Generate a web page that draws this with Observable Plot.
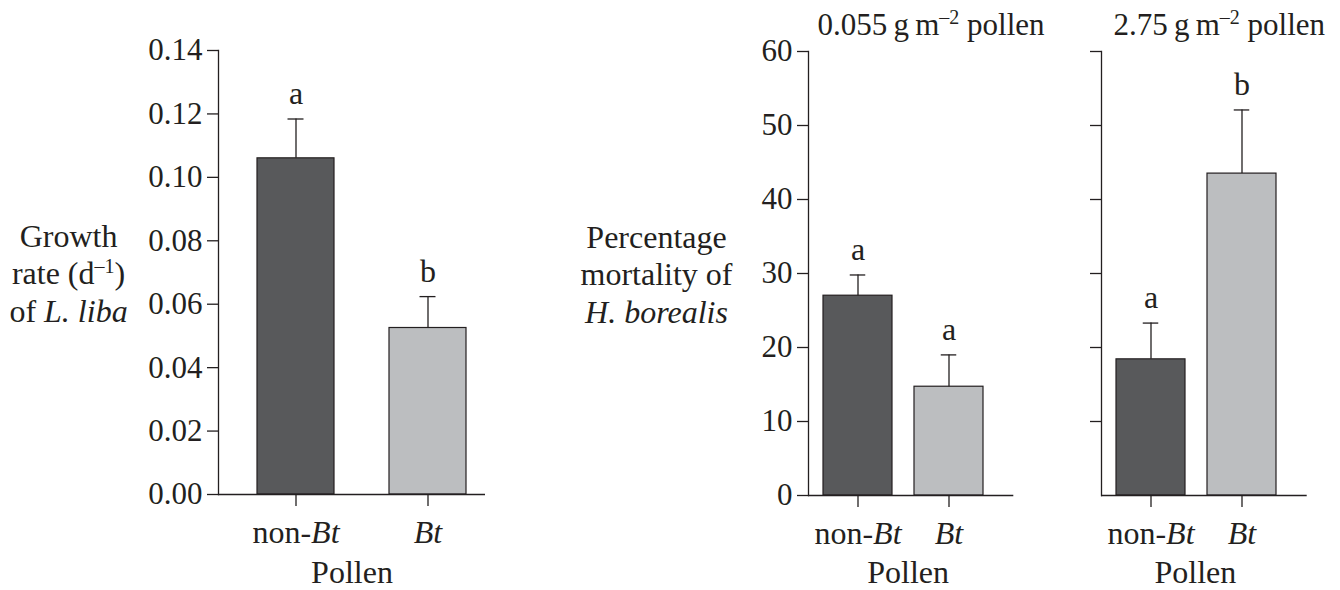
<!DOCTYPE html>
<html><head><meta charset="utf-8">
<script src="https://cdn.jsdelivr.net/npm/d3@7"></script>
<script src="https://cdn.jsdelivr.net/npm/@observablehq/plot@0.6"></script>
<style>
html,body{margin:0;padding:0;background:#fff;}
#chart{position:relative;width:1340px;height:590px;overflow:hidden;background:#fff;}
#chart svg{position:absolute;top:0;}
</style></head><body><div id="chart"></div>
<script>
// ---- data ----
const pollen = ["non-Bt", "Bt"];
const pollenTickText = ["non-*Bt*", "*Bt*"];
const barColors = ["#58595b", "#bcbec0"];

const growthMean = [0.106, 0.0525];
const growthSE = [0.0124, 0.0099];
const growthLetters = ["a", "b"];
const growthTicks = [0, 0.02, 0.04, 0.06, 0.08, 0.10, 0.12, 0.14];

const lowMean = [27.0, 14.7];
const lowSE = [2.8, 4.3];
const lowLetters = ["a", "a"];

const highMean = [18.4, 43.5];
const highSE = [4.9, 8.6];
const highLetters = ["a", "b"];

const mortTicks = [0, 10, 20, 30, 40, 50, 60];
const mortTicksNoLabel = [10, 20, 30, 40, 50, 60];

const growthLabel = "Growth\nrate (d^–1^)\nof *L. liba*";
const mortLabel = "Percentage\nmortality of\n*H. borealis*";
const lowTitle = "0.055\u2009g\u2009m^–2^ pollen";
const highTitle = "2.75\u2009g\u2009m^–2^ pollen";
const xTitle = "Pollen";

const ink = "#231f20";
const FS = 31;
const FSL = 32;

// ---- rich text helpers (italic / superscript) ----
const hasMarkup = s => /[*^]/.test(s);
function renderLine(parent, line) {
  parent.textContent = "";
  const parts = line.split(/(\*[^*]+\*|\^[^^]+\^)/).filter(s => s.length);
  let shift = 0;
  for (const p of parts) {
    const ts = document.createElementNS("http://www.w3.org/2000/svg", "tspan");
    if (shift) { ts.setAttribute("dy", shift); shift = 0; }
    if (p.startsWith("*")) {
      ts.textContent = p.slice(1, -1);
      ts.setAttribute("font-style", "italic");
    } else if (p.startsWith("^")) {
      ts.textContent = p.slice(1, -1);
      ts.setAttribute("font-size", Math.round(FS * 0.64) + "px");
      ts.setAttribute("dy", -11);
      shift = 11;
    } else {
      ts.textContent = p;
    }
    parent.appendChild(ts);
  }
}
function richify(svg) {
  svg.querySelectorAll("text").forEach(t => {
    if (!hasMarkup(t.textContent)) return;
    const lines = Array.from(t.querySelectorAll("tspan"));
    if (lines.length) lines.forEach(ts => { if (hasMarkup(ts.textContent)) renderLine(ts, ts.textContent); });
    else renderLine(t, t.textContent);
  });
}

// ---- panel builder ----
function panel(o) {
  const rows = pollen.map((p, i) => ({
    pollen: p, mean: o.means[i], top: o.means[i] + o.ses[i], letter: o.letters[i]
  }));
  const capInset = (o.bandwidth - 16) / 2;
  const marks = [
    Plot.barY(rows, {x: "pollen", y: "mean", fill: "pollen", stroke: ink, strokeWidth: 1.2}),
    Plot.ruleX(rows, {x: "pollen", y1: "mean", y2: "top", stroke: ink, strokeWidth: 1.3}),
    Plot.tickY(rows, {x: "pollen", y: "top", insetLeft: capInset, insetRight: capInset, stroke: ink, strokeWidth: 1.3}),
    Plot.text(rows, {x: "pollen", y: "top", text: "letter", dy: -15, lineAnchor: "bottom", fill: ink, fontSize: FSL}),
    Plot.ruleY([0], {stroke: ink, strokeWidth: 1.3}),
    Plot.frame({anchor: "left", stroke: ink, strokeWidth: 1.3}),
    Plot.axisY({ticks: o.yTicks, tickSize: 11, tickPadding: 5, tickFormat: o.tickFormat, label: null, strokeWidth: 1.3}),
    Plot.axisX({tickSize: 12, tickPadding: 14, label: null, strokeWidth: 1.3, fontSize: FSL,
      tickFormat: d => pollenTickText[pollen.indexOf(d)]}),
    Plot.text([xTitle], {text: d => d, frameAnchor: "bottom", dx: o.pollenDx, dy: o.pollenDy, lineAnchor: "bottom", fill: ink, fontSize: FSL})
  ];
  if (o.yLabel) marks.push(Plot.text([o.yLabel], {text: d => d, frameAnchor: "left", dx: o.yLabelDx,
    textAnchor: "middle", lineAnchor: "middle", lineHeight: 1.17, fill: ink, fontSize: FSL}));
  if (o.title) marks.push(Plot.text([o.title], {text: d => d, frameAnchor: "top-left", dx: o.titleDx, dy: -17,
    textAnchor: "start", lineAnchor: "bottom", fill: ink}));

  const svg = Plot.plot({
    width: o.width, height: 590,
    marginLeft: o.mL, marginRight: o.mR, marginTop: o.mT, marginBottom: o.mB,
    x: {type: "band", domain: pollen, range: o.xRange, paddingInner: o.pad, paddingOuter: 0, align: 0.5, label: null},
    y: {domain: o.yDomain, label: null},
    color: {domain: pollen, range: barColors},
    style: {fontFamily: "'Liberation Serif', 'Times New Roman', serif", fontSize: FS + "px",
      color: ink, background: "transparent", overflow: "visible"},
    marks
  });
  svg.style.left = o.left + "px";
  richify(svg);
  document.getElementById("chart").appendChild(svg);
}

// Panel 1: growth rate of L. liba
panel({left: 0, width: 520, mL: 218, mR: 35, mT: 50, mB: 96,
  xRange: [256.7, 466], pad: 0.418, bandwidth: 77,
  yDomain: [0, 0.14], yTicks: growthTicks, tickFormat: d3.format(".2f"),
  means: growthMean, ses: growthSE, letters: growthLetters,
  yLabel: growthLabel, yLabelDx: -150, pollenDx: 0, pollenDy: 88});

// Panel 2: mortality at 0.055 g/m2
panel({left: 520, width: 520, mL: 288, mR: 26.7, mT: 51, mB: 95,
  xRange: [302, 463.3], pad: 0.241, bandwidth: 69.5,
  yDomain: [0, 60], yTicks: mortTicks, tickFormat: d3.format("d"),
  means: lowMean, ses: lowSE, letters: lowLetters,
  yLabel: mortLabel, yLabelDx: -152, title: lowTitle, titleDx: 9, pollenDx: -3, pollenDy: 87});

// Panel 3: mortality at 2.75 g/m2
panel({left: 1040, width: 300, mL: 61, mR: 33.3, mT: 51, mB: 95,
  xRange: [75.7, 237], pad: 0.241, bandwidth: 69.5,
  yDomain: [0, 60], yTicks: mortTicksNoLabel, tickFormat: () => "",
  means: highMean, ses: highSE, letters: highLetters,
  title: highTitle, titleDx: 12, pollenDx: -9, pollenDy: 87});
</script></body></html>
